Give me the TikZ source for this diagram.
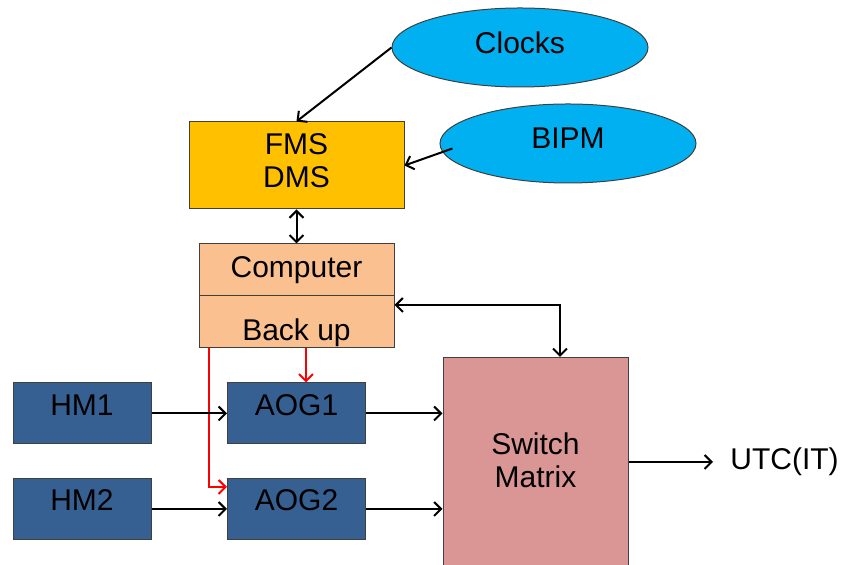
\documentclass[tikz,border=0pt]{standalone}
\usepackage{fontspec}
\setmainfont{Liberation Sans}
\usetikzlibrary{shapes.geometric,arrows.meta}
\definecolor{skyfill}{HTML}{00B0F0}
\definecolor{goldfill}{HTML}{FFC000}
\definecolor{peachfill}{HTML}{FAC090}
\definecolor{unitblue}{HTML}{376092}
\definecolor{rosefill}{HTML}{D99694}
\definecolor{boxline}{HTML}{404040}
\begin{document}
\begin{tikzpicture}[x=0.5pt, y=-0.5pt,
		every node/.style={align=center, font=\fontsize{15}{16.5}\selectfont},
		box/.style={draw=boxline, line width=0.5pt, rectangle},
		cloud/.style={draw=boxline, line width=0.5pt, ellipse, fill=skyfill, minimum width=128pt, minimum height=39.5pt, text depth=5pt},
		unit/.style={box, fill=unitblue, minimum width=69pt, minimum height=30.5pt, text depth=8.5pt},
		arrow/.style={-{Straight Barb[length=3.5pt,width=7pt]}, line width=1pt},
		dblarrow/.style={{Straight Barb[length=3.5pt,width=7pt]}-{Straight Barb[length=3.5pt,width=7pt]}, line width=1pt},
		redarrow/.style={arrow, red},
	]
	\clip (0,0) rectangle (843,565);

	\node[cloud] (clocks) at (520,47.5) {Clocks};
	\node[cloud] (bipm) at (568,143.5) {BIPM};
	\node[box, fill=goldfill, minimum width=107.5pt, minimum height=43.5pt, text depth=5pt] (fms) at (296.5,165.5) {FMS\\DMS};
	\node[box, fill=peachfill, minimum width=97.5pt, minimum height=26pt] (comp) at (296.5,270) {Computer};
	\node[box, fill=peachfill, minimum width=97.5pt, minimum height=26pt, inner ysep=0pt, text height=21.8pt] (backup) at (296.5,322) {Back up};
	\node[unit] (hm1) at (82,413.5) {HM1};
	\node[unit] (hm2) at (82,509) {HM2};
	\node[unit] (aog1) at (296.5,413.5) {AOG1};
	\node[unit] (aog2) at (296.5,509) {AOG2};
	\node[box, fill=rosefill, anchor=north, minimum width=92.5pt, minimum height=110pt] (switch) at (535.5,357) {};
	\node (swtext) at (535.5,460) {Switch\\Matrix};
	\node[anchor=west, inner xsep=8.5pt] (utc) at (713,462) {UTC(IT)};

	\draw[arrow] (clocks.west) -- (fms.north);
	\draw[arrow] ([xshift=6.5pt,yshift=-2.5pt]bipm.west) -- (fms.east);
	\draw[dblarrow] (fms.south) -- (comp.north);
	\draw[dblarrow] ([yshift=8.5pt]backup.east) -| ([xshift=12.25pt]switch.north);
	\draw[redarrow] ([xshift=4.75pt]backup.south) -- ([xshift=4.75pt]aog1.north);
	\draw[redarrow] ([xshift=5pt]backup.south west) |- ([yshift=11pt]aog2.west);
	\draw[arrow] (hm1.east) -- (aog1.west);
	\draw[arrow] (hm2.east) -- (aog2.west);
	\draw[arrow] (aog1.east) -- (aog1.east -| switch.west);
	\draw[arrow] (aog2.east) -- (aog2.east -| switch.west);
	\draw[arrow] (utc.west -| switch.east) -- (utc.west);
\end{tikzpicture}
\end{document}
